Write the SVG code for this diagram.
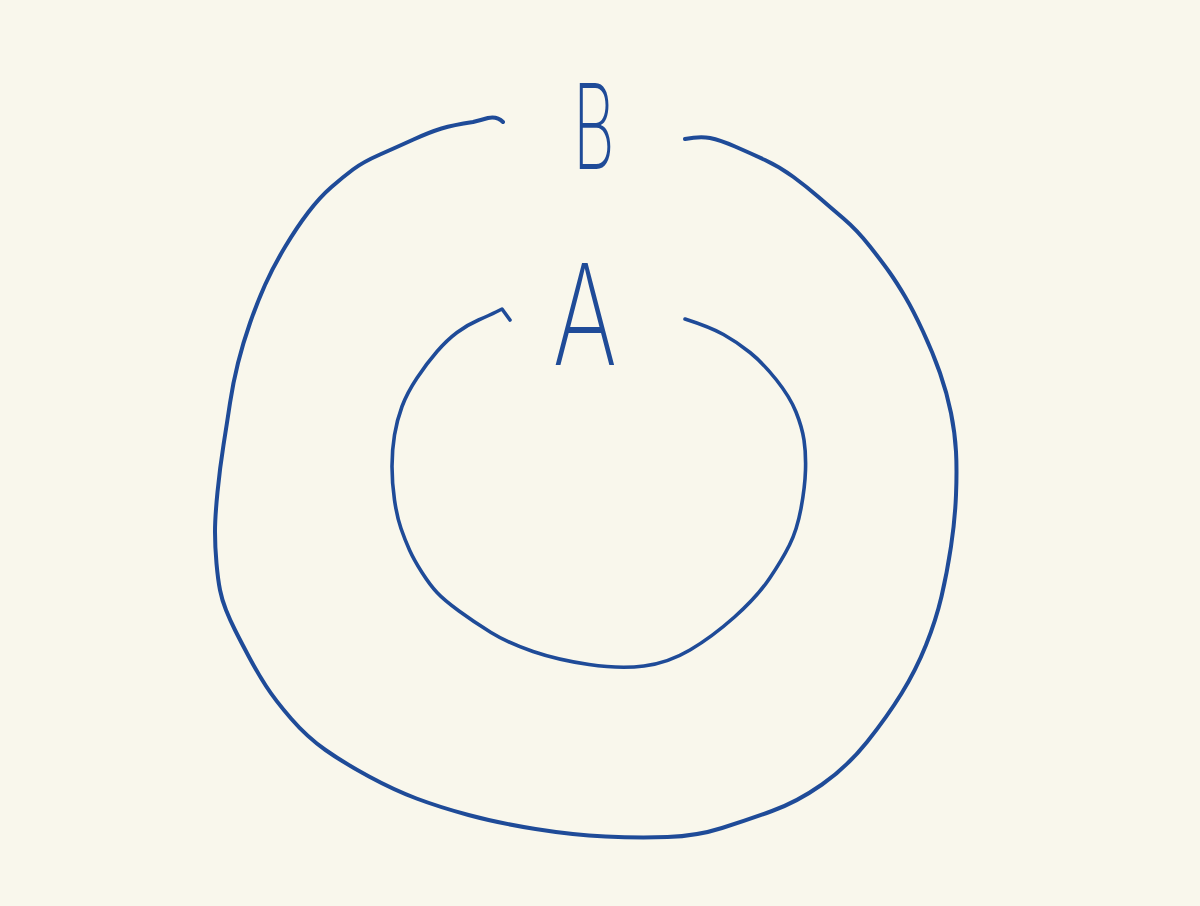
<svg xmlns="http://www.w3.org/2000/svg" width="1200" height="906" viewBox="0 0 1200 906">
<style>
.ink{fill:none;stroke:#1f4b98;stroke-linecap:round;stroke-linejoin:round}
.lbl{font-family:Inter,"Liberation Sans",sans-serif;font-weight:200;fill:#1f4b98;text-anchor:middle}
</style>
<rect width="1200" height="906" fill="#f9f7ec"/>
<g id="curves">
<path id="outer" class="ink" stroke-width="4" d="M503,122 Q497,116 488,118 Q481,120 473,122 Q453,125 441.5,128.5 Q430,132 413.5,139.5 Q397,147 380,154.5 Q363,162 353,169.5 Q343,177 331.5,187 Q320,197 308.5,212 Q297,227 285,247 Q273,267 265,285 Q257,303 250,323 Q243,343 238,363 Q233,383 230,403 Q227,423 223.5,445 Q220,467 217.5,492 Q215,517 215,532 Q215,547 216.5,563.5 Q218,580 220,590 Q222,600 226,610 Q230,620 235,630 Q240,640 248.5,656 Q257,672 266,686 Q275,700 291,718.5 Q307,737 325.5,750 Q344,763 369,776.5 Q394,790 416.5,798.5 Q439,807 468.5,815 Q498,823 535.5,829 Q573,835 605.5,836.5 Q638,838 667.5,837 Q697,836 722,828 Q747,820 772,811 Q797,802 822,784.5 Q847,767 867,742 Q887,717 901.5,693.5 Q916,670 926,645 Q936,620 941.5,596.5 Q947,573 951,546.5 Q955,520 956,495 Q957,470 956,451.5 Q955,433 951,413 Q947,393 940,373 Q933,353 923,331.5 Q913,310 905,296.5 Q897,283 890,273 Q883,263 870,246.5 Q857,230 843.5,218.5 Q830,207 818.5,197 Q807,187 793.5,177 Q780,167 765,160 Q750,153 735,146.5 Q720,140 710,138 Q700,136 685,139"/>
<path id="inner" class="ink" stroke-width="3.6" d="M510,320 L502,309 L496,312 Q490,315 478.5,320 Q467,325 457,332.5 Q447,340 437,351.5 Q427,363 417,378 Q407,393 402,406.5 Q397,420 394.5,435 Q392,450 392,466.5 Q392,483 394.5,500 Q397,517 401,528.5 Q405,540 409.5,550 Q414,560 422,572.5 Q430,585 437,592.5 Q444,600 459,611 Q474,622 491,632.5 Q508,643 533,651.5 Q558,660 589,664.5 Q620,669 644,666 Q668,663 690,650 Q712,637 734.5,617 Q757,597 769.5,578.5 Q782,560 789.5,545 Q797,530 801,508.5 Q805,487 805.5,470 Q806,453 804,440 Q802,427 796,412 Q790,397 776.5,380 Q763,363 750,352.5 Q737,342 723.5,334.5 Q710,327 685,319"/>
</g>
<g id="node-B">
<text class="lbl" font-size="118" transform="translate(594,169) scale(0.55,1)">B</text>
</g>
<g id="node-A">
<text class="lbl" font-size="140" transform="translate(585,365) scale(0.7,1)">A</text>
</g>
</svg>
